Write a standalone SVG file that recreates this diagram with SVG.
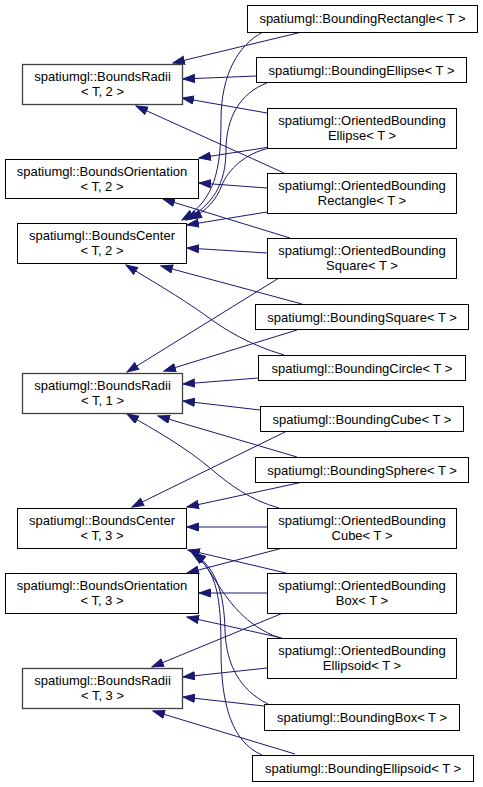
<svg xmlns="http://www.w3.org/2000/svg" width="483" height="787" viewBox="0 0 483 787">
<style>
.bg{fill:#ffffff}
.n rect{fill:#ffffff;stroke:#000000;stroke-width:1}
.g rect{stroke:#404040;stroke-width:1.3}
.n text{font-family:"Liberation Sans",Arial,Helvetica,sans-serif;font-size:13px;fill:#000000;text-anchor:middle}
.e path{fill:none;stroke:#191970;stroke-width:1;marker-end:url(#ah)}
</style>
<defs>
<marker id="ah" markerUnits="userSpaceOnUse" markerWidth="13" markerHeight="10" refX="12" refY="4.5" orient="auto">
<path d="M0.5,0.5 L12,4.5 L0.5,8.5 z" fill="#191970" stroke="#191970" stroke-width="1"/>
</marker>
</defs>
<rect class="bg" x="0" y="0" width="483" height="787"/>
<g id="connectors" class="e">
<path d="M302,32 L173,63"/>
<path d="M263,32 C238,45 221,75 221,120 C221,170 215,200 182,220"/>
<path d="M256,76 L183,79"/>
<path d="M267,83 C240,93 226,118 226,150 C226,185 212,205 186,220"/>
<path d="M267,113 L182,98"/>
<path d="M270,147 L199,158"/>
<path d="M270,148 C245,153 228,170 222,185 C216,200 208,210 190,219"/>
<path d="M284,173 L136,106"/>
<path d="M267,188 L199,183"/>
<path d="M267,212 L187,225"/>
<path d="M290,238 L163,199"/>
<path d="M267,253 L187,248"/>
<path d="M279,278 L127,372"/>
<path d="M302,304 L161,266"/>
<path d="M297,330 L164,371"/>
<path d="M284,355 C250,345 225,330 205,315 C180,297 150,280 126,265"/>
<path d="M258,378 L183,384"/>
<path d="M260,410 L183,401"/>
<path d="M287,431 L132,507"/>
<path d="M297,457 L158,416"/>
<path d="M303,482 L187,507"/>
<path d="M279,508 C250,500 230,485 210,468 C185,447 155,430 127,414"/>
<path d="M267,527 L187,527"/>
<path d="M283,548 L187,573"/>
<path d="M286,573 L188,550"/>
<path d="M267,593 L199,593"/>
<path d="M283,613 L152,667"/>
<path d="M280,638 C245,626 228,600 215,580 C208,568 202,560 193,553"/>
<path d="M282,638 L187,617"/>
<path d="M267,668 L183,677"/>
<path d="M268,704 C240,690 226,665 225,630 C224,590 215,568 194,553"/>
<path d="M264,706 L183,697"/>
<path d="M262,755 C232,742 221,705 221,650 C221,600 218,570 192,553"/>
<path d="M295,754 L153,711"/>
</g>
<g id="BoundsRadii_T2" class="n g"><rect x="22.5" y="64.5" width="160" height="40"/><text x="102.5" y="81">spatiumgl::BoundsRadii</text><text x="102.5" y="96">&lt; T, 2 &gt;</text></g>
<g id="BoundsOrientation_T2" class="n"><rect x="5.5" y="159.5" width="193" height="39"/><text x="102" y="176">spatiumgl::BoundsOrientation</text><text x="102" y="191">&lt; T, 2 &gt;</text></g>
<g id="BoundsCenter_T2" class="n"><rect x="17.5" y="223.5" width="169" height="40"/><text x="102" y="240">spatiumgl::BoundsCenter</text><text x="102" y="255">&lt; T, 2 &gt;</text></g>
<g id="BoundsRadii_T1" class="n g"><rect x="22.5" y="373.5" width="160" height="40"/><text x="102.5" y="390">spatiumgl::BoundsRadii</text><text x="102.5" y="405">&lt; T, 1 &gt;</text></g>
<g id="BoundsCenter_T3" class="n"><rect x="17.5" y="508.5" width="169" height="40"/><text x="102" y="525">spatiumgl::BoundsCenter</text><text x="102" y="540">&lt; T, 3 &gt;</text></g>
<g id="BoundsOrientation_T3" class="n"><rect x="5.5" y="573.5" width="193" height="40"/><text x="102" y="590">spatiumgl::BoundsOrientation</text><text x="102" y="605">&lt; T, 3 &gt;</text></g>
<g id="BoundsRadii_T3" class="n g"><rect x="22.5" y="668.5" width="160" height="40"/><text x="102.5" y="685">spatiumgl::BoundsRadii</text><text x="102.5" y="700">&lt; T, 3 &gt;</text></g>
<g id="BoundingRectangle" class="n"><rect x="247.5" y="5.5" width="230" height="27"/><text x="362.5" y="23">spatiumgl::BoundingRectangle&lt; T &gt;</text></g>
<g id="BoundingEllipse" class="n"><rect x="256.5" y="57.5" width="210" height="25"/><text x="361.5" y="74.5">spatiumgl::BoundingEllipse&lt; T &gt;</text></g>
<g id="OrientedBoundingEllipse" class="n"><rect x="267.5" y="108.5" width="189" height="40"/><text x="362" y="125">spatiumgl::OrientedBounding</text><text x="362" y="140">Ellipse&lt; T &gt;</text></g>
<g id="OrientedBoundingRectangle" class="n"><rect x="267.5" y="173.5" width="189" height="40"/><text x="362" y="190">spatiumgl::OrientedBounding</text><text x="362" y="205">Rectangle&lt; T &gt;</text></g>
<g id="OrientedBoundingSquare" class="n"><rect x="267.5" y="238.5" width="189" height="40"/><text x="362" y="255">spatiumgl::OrientedBounding</text><text x="362" y="270">Square&lt; T &gt;</text></g>
<g id="BoundingSquare" class="n"><rect x="255.5" y="304.5" width="213" height="25"/><text x="362" y="321.5">spatiumgl::BoundingSquare&lt; T &gt;</text></g>
<g id="BoundingCircle" class="n"><rect x="258.5" y="355.5" width="207" height="25"/><text x="362" y="372.5">spatiumgl::BoundingCircle&lt; T &gt;</text></g>
<g id="BoundingCube" class="n"><rect x="260.5" y="406.5" width="203" height="25"/><text x="362" y="423.5">spatiumgl::BoundingCube&lt; T &gt;</text></g>
<g id="BoundingSphere" class="n"><rect x="255.5" y="457.5" width="213" height="25"/><text x="362" y="474.5">spatiumgl::BoundingSphere&lt; T &gt;</text></g>
<g id="OrientedBoundingCube" class="n"><rect x="267.5" y="508.5" width="189" height="40"/><text x="362" y="525">spatiumgl::OrientedBounding</text><text x="362" y="540">Cube&lt; T &gt;</text></g>
<g id="OrientedBoundingBox" class="n"><rect x="267.5" y="573.5" width="189" height="40"/><text x="362" y="590">spatiumgl::OrientedBounding</text><text x="362" y="605">Box&lt; T &gt;</text></g>
<g id="OrientedBoundingEllipsoid" class="n"><rect x="267.5" y="638.5" width="189" height="40"/><text x="362" y="655">spatiumgl::OrientedBounding</text><text x="362" y="670">Ellipsoid&lt; T &gt;</text></g>
<g id="BoundingBox" class="n"><rect x="264.5" y="704.5" width="195" height="26"/><text x="362" y="722">spatiumgl::BoundingBox&lt; T &gt;</text></g>
<g id="BoundingEllipsoid" class="n"><rect x="252.5" y="755.5" width="221" height="26"/><text x="363" y="773">spatiumgl::BoundingEllipsoid&lt; T &gt;</text></g>
</svg>
